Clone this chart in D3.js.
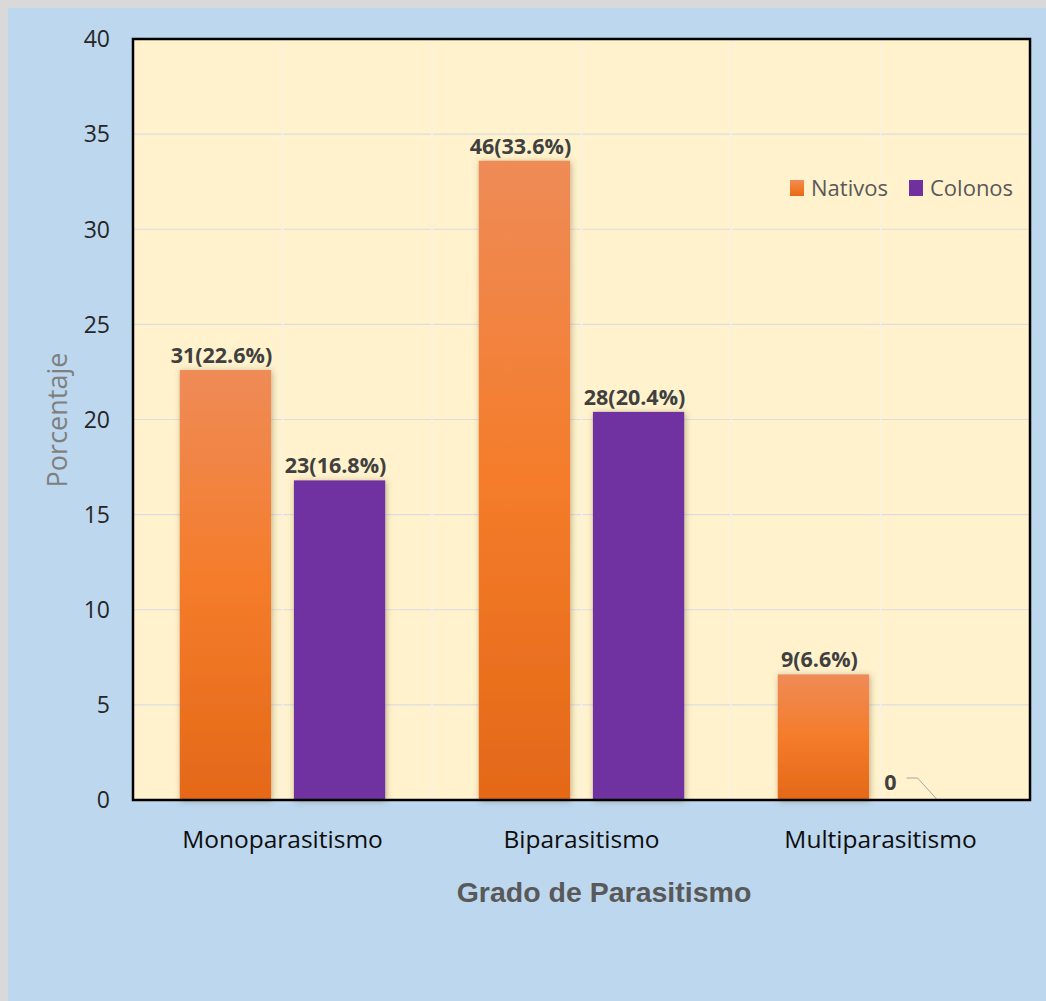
<!DOCTYPE html>
<html>
<head>
<meta charset="utf-8">
<script src="https://cdn.jsdelivr.net/npm/d3@7"></script>
<style>
  html, body { margin: 0; padding: 0; background: #d9d9d9; }
  svg { display: block; }
</style>
</head>
<body>
<svg id="chart" width="1046" height="1001"></svg>
<script>
// Grado de parasitismo por grupo
const categories = ["Monoparasitismo", "Biparasitismo", "Multiparasitismo"];
const series = ["Nativos", "Colonos"];
const nativosPct = [22.6, 33.6, 6.6];
const colonosPct = [16.8, 20.4, 0];
const nativosN = [31, 46, 9];
const colonosN = [23, 28, 0];
const yTicks = [0, 5, 10, 15, 20, 25, 30, 35, 40];

const data = categories.map((c, i) => ({
  category: c,
  values: [
    { key: "Nativos", pct: nativosPct[i], n: nativosN[i] },
    { key: "Colonos", pct: colonosPct[i], n: colonosN[i] }
  ]
}));

const W = 1046, H = 1001;
const plot = { left: 133, right: 1030, top: 39, bottom: 800 };

const svg = d3.select("#chart");

const defs = svg.append("defs");
const grad = defs.append("linearGradient")
  .attr("id", "gradNativos").attr("x1", 0).attr("y1", 0).attr("x2", 0).attr("y2", 1);
grad.append("stop").attr("offset", "0%").attr("stop-color", "#ef8b57");
grad.append("stop").attr("offset", "50%").attr("stop-color", "#f47c2a");
grad.append("stop").attr("offset", "100%").attr("stop-color", "#e46818");

const shadow = defs.append("filter").attr("id", "barShadow")
  .attr("x", "-30%").attr("y", "-10%").attr("width", "160%").attr("height", "120%");
shadow.append("feDropShadow").attr("dx", 1).attr("dy", 1)
  .attr("stdDeviation", 3).attr("flood-color", "#6b5a3a").attr("flood-opacity", 0.45);

// backgrounds
svg.append("rect").attr("x", 8).attr("y", 8).attr("width", W - 8).attr("height", H - 8)
  .attr("fill", "#bdd7ee");
svg.append("rect")
  .attr("x", plot.left).attr("y", plot.top)
  .attr("width", plot.right - plot.left).attr("height", plot.bottom - plot.top)
  .attr("fill", "#fff2cc");

const x = d3.scaleBand().domain(categories).range([plot.left, plot.right]).padding(0);
const xs = d3.scaleBand().domain(series).range([0, x.bandwidth()])
  .paddingInner(0.2).paddingOuter(0.41);
const y = d3.scaleLinear().domain([0, 40]).range([plot.bottom, plot.top]);

// horizontal gridlines
svg.append("g").selectAll("line").data(yTicks.filter(t => t > 0 && t < 40)).join("line")
  .attr("x1", plot.left).attr("x2", plot.right)
  .attr("y1", d => y(d)).attr("y2", d => y(d))
  .attr("stroke", "#dcdde3").attr("stroke-width", 1.2);

// vertical gridlines at category centres and boundaries
const vLines = [];
categories.forEach((c, i) => {
  vLines.push(x(c) + x.bandwidth() / 2);
  if (i > 0) vLines.push(x(c));
});
svg.append("g").selectAll("line").data(vLines).join("line")
  .attr("x1", d => d).attr("x2", d => d)
  .attr("y1", plot.top).attr("y2", plot.bottom)
  .attr("stroke", "#f7f1e6").attr("stroke-width", 1.5);

// bars
const groups = svg.append("g").selectAll("g").data(data).join("g")
  .attr("transform", d => `translate(${x(d.category)},0)`);

groups.selectAll("rect").data(d => d.values.filter(v => v.pct > 0)).join("rect")
  .attr("x", d => xs(d.key))
  .attr("width", xs.bandwidth())
  .attr("y", d => y(d.pct))
  .attr("height", d => y(0) - y(d.pct))
  .attr("fill", d => d.key === "Nativos" ? "url(#gradNativos)" : "#7030a0")
  .attr("filter", "url(#barShadow)");

// value labels
groups.selectAll("text.val").data(d => d.values.filter(v => v.pct > 0)).join("text")
  .attr("class", "val")
  .attr("x", d => xs(d.key) + xs.bandwidth() / 2 - 4)
  .attr("y", d => y(d.pct) - 7)
  .attr("text-anchor", "middle")
  .attr("font-family", "'Open Sans', sans-serif")
  .attr("font-weight", "bold")
  .attr("font-size", 21.5)
  .attr("fill", "#404040")
  .text(d => `${d.n}(${d.pct}%)`);

// zero-valued label with leader line
data.forEach(d => {
  d.values.filter(v => v.pct === 0).forEach(v => {
    const cx = x(d.category) + xs(v.key) + xs.bandwidth() / 2;
    const y0 = y(v.pct);
    svg.append("path")
      .attr("d", d3.line()([[cx - 31, y0 - 22], [cx - 20, y0 - 22], [cx, y0]]))
      .attr("fill", "none").attr("stroke", "#a6a6a6").attr("stroke-width", 1);
    svg.append("text")
      .attr("x", cx - 41).attr("y", y0 - 10)
      .attr("text-anchor", "end")
      .attr("font-family", "'Open Sans', sans-serif")
      .attr("font-weight", "bold").attr("font-size", 21.5)
      .attr("fill", "#404040")
      .text(v.n);
  });
});

// y axis tick labels
svg.append("g").selectAll("text").data(yTicks).join("text")
  .attr("x", 110).attr("y", d => y(d)).attr("dy", "0.36em")
  .attr("text-anchor", "end")
  .attr("font-family", "'Open Sans', sans-serif").attr("font-size", 23)
  .attr("fill", "#262626")
  .text(d => d);

// category labels
svg.append("g").selectAll("text").data(categories).join("text")
  .attr("x", d => x(d) + x.bandwidth() / 2).attr("y", 848)
  .attr("text-anchor", "middle")
  .attr("font-family", "'Open Sans', sans-serif").attr("font-size", 24.5)
  .attr("fill", "#0d0d0d")
  .text(d => d);

// plot frame
svg.append("rect")
  .attr("x", plot.left).attr("y", plot.top)
  .attr("width", plot.right - plot.left).attr("height", plot.bottom - plot.top)
  .attr("fill", "none").attr("stroke", "#000").attr("stroke-width", 2.5);

// axis titles
svg.append("text")
  .attr("x", 604).attr("y", 902).attr("text-anchor", "middle")
  .attr("font-family", "'Liberation Sans', Arial, sans-serif")
  .attr("font-weight", "bold").attr("font-size", 28.5)
  .attr("fill", "#595959")
  .text("Grado de Parasitismo");

svg.append("text")
  .attr("transform", "translate(67,420) rotate(-90)")
  .attr("text-anchor", "middle")
  .attr("font-family", "'Open Sans', sans-serif").attr("font-size", 27)
  .attr("fill", "#7f7f7f")
  .text("Porcentaje");

// legend
const legendColors = { Nativos: "url(#gradNativos)", Colonos: "#7030a0" };
const legendX = [790, 909];
const lg = svg.append("g").selectAll("g").data(series).join("g")
  .attr("transform", (d, i) => `translate(${legendX[i]},188)`);
lg.append("rect").attr("x", 0).attr("y", -8).attr("width", 14).attr("height", 16)
  .attr("fill", d => legendColors[d]);
lg.append("text").attr("x", 21).attr("y", 0).attr("dy", "0.36em")
  .attr("font-family", "'Open Sans', sans-serif").attr("font-size", 22)
  .attr("fill", "#595959")
  .text(d => d);
</script>
</body>
</html>
